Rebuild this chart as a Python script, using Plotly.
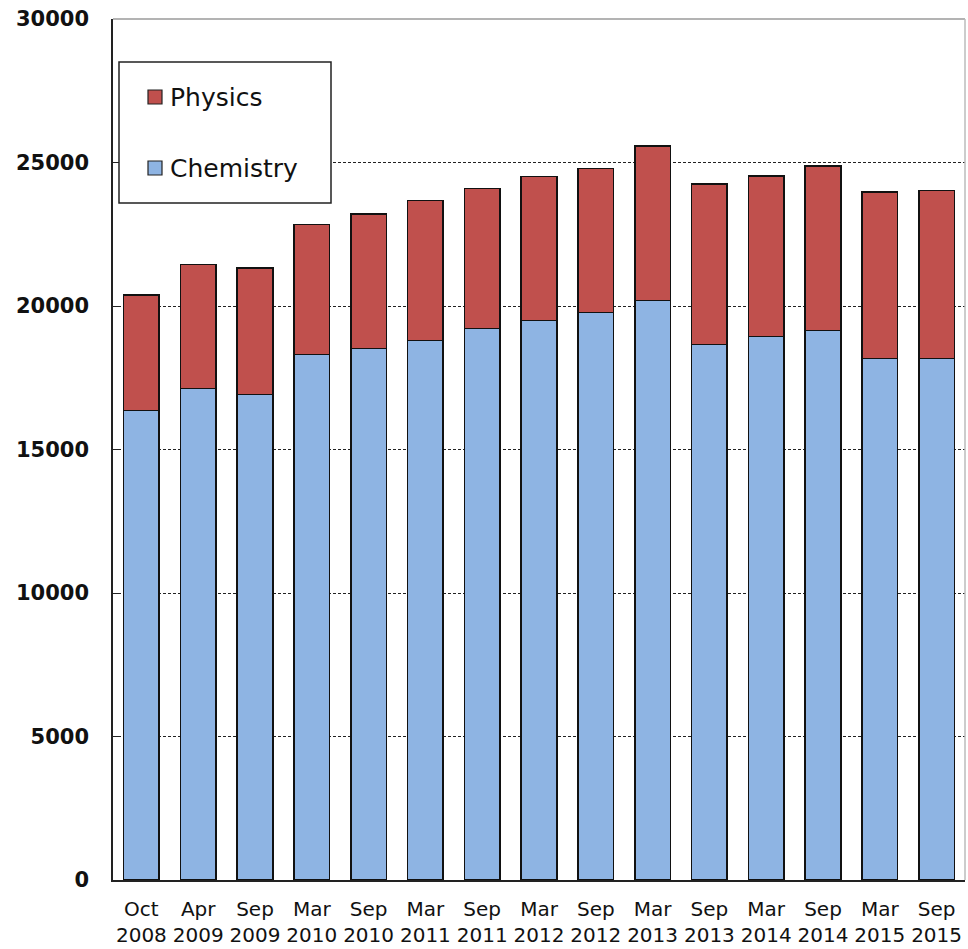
import plotly.graph_objects as go

categories = ["Oct<br>2008", "Apr<br>2009", "Sep<br>2009", "Mar<br>2010", "Sep<br>2010",
              "Mar<br>2011", "Sep<br>2011", "Mar<br>2012", "Sep<br>2012", "Mar<br>2013",
              "Sep<br>2013", "Mar<br>2014", "Sep<br>2014", "Mar<br>2015", "Sep<br>2015"]
chemistry = [16360, 17120, 16910, 18305, 18515, 18794, 19212, 19491, 19770, 20188,
             18654, 18933, 19142, 18166, 18166]
physics = [4020, 4324, 4414, 4533, 4682, 4881, 4881, 5024, 5021, 5380,
           5589, 5589, 5729, 5798, 5858]
y_ticks = [0, 5000, 10000, 15000, 20000, 25000, 30000]

BLUE = "#8EB4E3"
RED = "#C0504D"
EDGE = "#111111"

fig = go.Figure()
fig.add_trace(go.Bar(x=categories, y=chemistry, name="Chemistry",
                     marker=dict(color=BLUE, line=dict(color=EDGE, width=1.6))))
fig.add_trace(go.Bar(x=categories, y=physics, name="Physics",
                     marker=dict(color=RED, line=dict(color=EDGE, width=1.6))))

fig.update_layout(
    barmode="stack",
    bargap=0.37,
    width=968, height=949,
    margin=dict(l=113, r=3, t=19, b=69),
    paper_bgcolor="white", plot_bgcolor="white",
    showlegend=False,
    font=dict(family="DejaVu Sans, Verdana, sans-serif", color="#111111"),
)
fig.update_yaxes(
    range=[0, 30000], tickvals=y_ticks, ticktext=[str(v) for v in y_ticks],
    tickfont=dict(size=21, family="DejaVu Sans, Verdana", weight="bold", color="#111111"),
    showgrid=True, gridcolor="#222222", gridwidth=1, griddash="3px,2px",
    showline=True, linecolor="#222222", linewidth=1.5,
    ticks="inside", ticklen=6, tickcolor="#222222",
    ticklabelstandoff=18, zeroline=False,
)
fig.update_xaxes(
    tickfont=dict(size=20, family="DejaVu Sans, Verdana", color="#111111"),
    showline=True, linecolor="#222222", linewidth=1.5,
    ticks="", ticklabelstandoff=10,
)

# top and right frame (grey)
fig.add_shape(type="line", xref="paper", yref="paper", x0=0, x1=1, y0=1, y1=1,
              line=dict(color="#9a9a9a", width=1.5), layer="above")
fig.add_shape(type="line", xref="paper", yref="paper", x0=1, x1=1, y0=0, y1=1,
              line=dict(color="#bbbbbb", width=1.5), layer="above")

# legend drawn manually (pixel -> paper conversion)
PW, PH = 968 - 113 - 3, 949 - 19 - 69
def px(x):
    return (x - 113) / PW
def py(y):
    return 1 - (y - 19) / PH

fig.add_shape(type="rect", xref="paper", yref="paper",
              x0=px(119), x1=px(331), y0=py(203), y1=py(62),
              line=dict(color="#222222", width=1.5), fillcolor="white", layer="above")
for name, color, yc in [("Physics", RED, 97), ("Chemistry", BLUE, 168)]:
    fig.add_shape(type="rect", xref="paper", yref="paper",
                  x0=px(148), x1=px(162), y0=py(yc + 7), y1=py(yc - 7),
                  line=dict(color="#222222", width=1.2), fillcolor=color, layer="above")
    fig.add_annotation(text=name, xref="paper", yref="paper", x=px(168), y=py(yc),
                       xanchor="left", yanchor="middle", showarrow=False,
                       font=dict(size=25, family="DejaVu Sans, Verdana", color="#111111"))

fig.write_html("out.html", config={"displayModeBar": False},
               post_script="document.body.style.margin='0';document.body.style.overflow='hidden';")
